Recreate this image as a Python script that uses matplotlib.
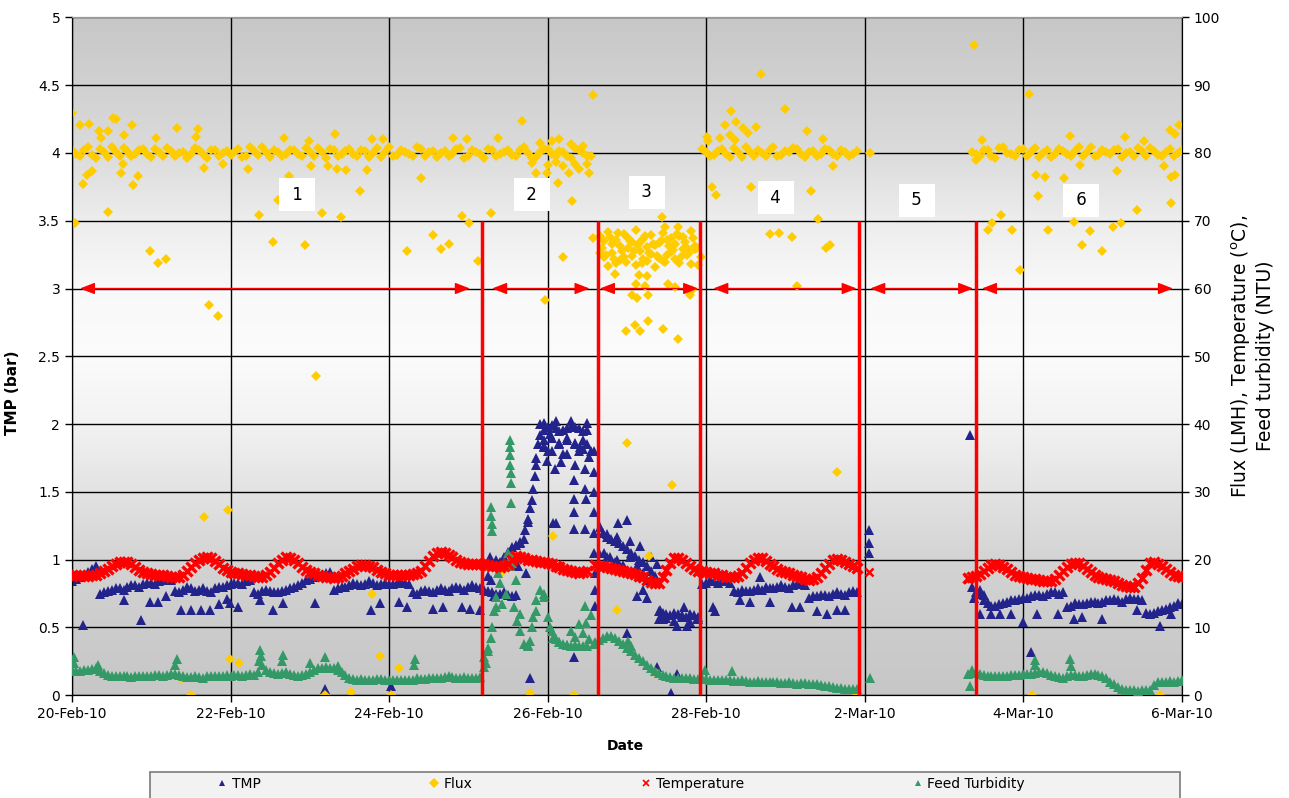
import numpy as np
import matplotlib.pyplot as plt
from matplotlib.lines import Line2D
from matplotlib.patches import Rectangle
from matplotlib.ticker import FormatStrFormatter

plt.rcParams['font.family'] = ['DejaVu Sans', 'Liberation Sans']

# ---------------- data (x = days since 20-Feb-10) ----------------
# dense runs are read every 0.1 day, plus a second reading between them
STEP = 0.1
date_labels = ['20-Feb-10', '22-Feb-10', '24-Feb-10', '26-Feb-10',
               '28-Feb-10', '2-Mar-10', '4-Mar-10', '6-Mar-10']
date_ticks = [0, 2, 4, 6, 8, 10, 12, 14]

# TMP (bar)
tmp_a_start = 0.0
tmp_a = [0.84, 0.87, 0.91, 0.95, 0.76, 0.78, 0.79, 0.80, 0.81, 0.82,
         0.83, 0.84, 0.86, 0.77, 0.78, 0.79, 0.78, 0.77, 0.79, 0.80,
         0.82, 0.83, 0.84, 0.76, 0.77, 0.77, 0.76, 0.78, 0.80, 0.83,
         0.86, 0.88, 0.90, 0.78, 0.80, 0.81, 0.82, 0.82, 0.83, 0.82,
         0.82, 0.83, 0.83, 0.76, 0.77, 0.77, 0.78, 0.78, 0.79, 0.79,
         0.80, 0.80, 0.78, 0.76, 0.75, 0.74, 0.74, 1.15, 1.44, 1.92,
         1.98, 1.97, 1.96, 1.98, 1.97, 1.96]
tmp_a_mid_start = 0.05
tmp_a_mid = [0.86, 0.89, 0.93, 0.75, 0.77, 0.79, 0.78, 0.81, 0.80, 0.83,
             0.82, 0.85, 0.85, 0.76, 0.80, 0.77, 0.79, 0.76, 0.80, 0.81,
             0.83, 0.82, 0.85, 0.75, 0.78, 0.76, 0.77, 0.79, 0.81, 0.85,
             0.87, 0.89, 0.91, 0.79, 0.80, 0.83, 0.81, 0.84, 0.81, 0.83,
             0.82, 0.84, 0.82, 0.75, 0.78, 0.76, 0.79, 0.77, 0.80, 0.78,
             0.81, 0.79, 0.77, 0.75, 0.76, 0.73, 1.12, 1.28, 1.70, 1.96,
             1.99, 1.95, 1.97, 1.98, 1.95]
tmp_b_start = 6.7
tmp_b = [1.20, 1.15, 1.12, 1.08, 1.03, 0.98, 0.92, 0.62, 0.60, 0.61,
         0.59, 0.60, 0.58, 0.83, 0.84, 0.84, 0.83, 0.76, 0.77, 0.78,
         0.78, 0.79, 0.80, 0.80, 0.81, 0.82, 0.72, 0.73, 0.74, 0.75,
         0.75, 0.76, 0.76]
tmp_b_mid_start = 6.75
tmp_b_mid = [1.17, 1.14, 1.10, 1.05, 1.00, 0.95, 0.88, 0.61, 0.59, 0.60,
             0.58, 0.59, 0.82, 0.85, 0.83, 0.85, 0.77, 0.78, 0.77, 0.79,
             0.80, 0.79, 0.81, 0.79, 0.82, 0.81, 0.73, 0.74, 0.73, 0.76,
             0.74, 0.77]
tmp_c_start = 11.4
tmp_c = [0.76, 0.74, 0.66, 0.67, 0.69, 0.70, 0.72, 0.73, 0.74, 0.75,
         0.76, 0.76, 0.66, 0.67, 0.68, 0.69, 0.69, 0.70, 0.70, 0.71,
         0.71, 0.70, 0.60, 0.62, 0.64, 0.66, 0.67]
tmp_c_mid_start = 11.45
tmp_c_mid = [0.75, 0.68, 0.66, 0.68, 0.70, 0.71, 0.72, 0.74, 0.73, 0.76,
             0.75, 0.65, 0.68, 0.67, 0.69, 0.68, 0.70, 0.71, 0.69, 0.72,
             0.71, 0.61, 0.61, 0.63, 0.65, 0.68]
# lower edge of the thick parts of the TMP band
tmp_plateau_start = 5.95
tmp_plateau_lo = [1.84, 1.80, 1.86, 1.78, 1.85, 1.82, 1.80]
tmp_b_lo_start = 6.65
tmp_b_lo = [1.05, 1.02, 0.98, 0.96, 0.92, 0.88, 0.85]
tmp_low_start = 7.4
tmp_low_lo = [0.56, 0.57, 0.55, 0.58, 0.54, 0.56]
tmp_scatter = [
    (0.135, 0.52), (0.66, 0.70), (0.87, 0.555), (0.98, 0.69), (1.08, 0.69),
    (1.18, 0.73), (1.38, 0.63), (1.50, 0.63), (1.63, 0.63), (1.74, 0.63),
    (1.85, 0.67), (1.95, 0.71), (1.99, 0.68), (2.10, 0.65), (2.37, 0.70),
    (2.53, 0.63), (2.66, 0.68), (3.07, 0.68), (3.19, 0.05), (3.77, 0.63),
    (3.88, 0.68), (4.02, 0.07), (4.13, 0.69), (4.23, 0.65), (4.56, 0.64),
    (4.68, 0.65), (4.92, 0.65), (5.02, 0.64), (5.15, 0.63),
    (5.25, 0.88), (5.30, 0.95), (5.35, 1.00), (5.40, 0.98), (5.45, 1.02),
    (5.50, 1.06), (5.55, 1.09), (5.60, 1.11), (5.65, 1.13), (5.72, 1.22),
    (5.75, 1.30), (5.78, 1.38), (5.82, 1.52), (5.84, 1.62), (5.86, 1.75),
    (5.88, 1.85), (5.90, 2.00), (5.27, 1.02), (5.29, 0.85), (5.32, 0.73),
    (5.40, 0.95), (5.59, 0.98), (5.63, 0.95), (5.73, 0.90), (5.78, 0.13),
    (5.95, 1.88), (6.05, 1.90), (6.15, 1.85), (6.25, 1.90), (6.35, 1.86),
    (6.45, 1.88), (6.00, 1.80), (6.20, 1.78), (6.40, 1.80), (6.50, 1.85),
    (5.95, 2.01), (6.10, 2.02), (6.30, 2.02), (6.50, 2.01), (5.95, 1.83),
    (5.99, 1.73), (6.03, 1.93), (6.09, 1.67), (6.10, 1.27), (6.17, 1.72),
    (6.24, 1.88), (6.33, 0.28), (6.35, 1.70), (6.33, 1.59), (6.33, 1.45),
    (6.33, 1.35), (6.33, 1.23), (6.41, 1.83), (6.47, 1.67), (6.47, 1.52),
    (6.49, 1.45), (6.47, 1.23), (6.52, 1.76), (6.07, 1.27),
    (6.58, 1.80), (6.58, 1.65), (6.58, 1.50), (6.59, 1.35), (6.59, 1.20),
    (6.59, 1.05), (6.60, 0.90), (6.60, 0.78), (6.60, 0.66),
    (6.66, 1.24), (6.89, 1.27), (7.00, 1.29), (6.71, 1.05), (6.79, 1.02),
    (6.87, 1.00), (7.04, 1.02), (7.13, 0.95), (7.21, 0.90), (7.13, 0.73),
    (7.21, 0.78), (7.25, 0.72), (6.75, 1.19), (6.87, 1.17), (7.04, 1.14),
    (7.17, 1.10), (7.30, 1.02), (7.38, 0.97), (7.00, 0.46), (7.38, 0.21),
    (7.56, 0.02), (7.63, 0.16), (7.46, 0.56), (7.63, 0.51), (7.76, 0.51),
    (7.89, 0.56), (7.42, 0.63), (7.72, 0.65),
    (8.09, 0.65), (8.11, 0.62), (8.43, 0.70), (8.55, 0.69), (8.81, 0.69),
    (9.08, 0.65), (9.19, 0.65), (9.40, 0.62), (9.52, 0.60), (9.65, 0.63),
    (9.75, 0.63), (8.68, 0.87),
    (10.05, 1.22), (10.05, 1.12), (10.06, 1.05),
    (11.33, 1.92), (11.35, 0.80), (11.38, 0.72), (11.45, 0.78), (11.50, 0.70),
    (11.46, 0.60), (11.60, 0.60), (11.71, 0.60), (11.85, 0.60), (12.00, 0.54),
    (12.18, 0.60), (12.44, 0.60), (12.64, 0.56), (12.74, 0.58), (13.00, 0.56),
    (13.43, 0.63), (13.72, 0.51), (13.87, 0.60), (12.10, 0.32)]

# Flux (LMH)
flux_a_start = 0.0
flux_a = [80.4, 79.6, 80.8, 79.3, 80.2, 80.9, 79.5, 80.3, 79.8, 80.6,
          79.4, 80.1, 80.7, 79.6, 80.2, 79.9, 80.5, 79.3, 80.4, 80.0,
          79.7, 80.6, 79.5, 80.3, 80.8, 79.4, 80.1, 79.8, 80.5, 79.6,
          80.2, 80.7, 79.3, 80.4, 79.9, 80.6, 79.5, 80.3, 80.0, 79.4,
          80.8, 79.7, 80.2, 79.5, 80.6, 80.1, 79.4, 80.3, 79.8, 80.7,
          79.6, 80.2, 79.3, 80.5, 79.9, 80.4, 79.6, 80.8, 79.3, 80.2,
          80.6, 79.5, 80.1, 79.2, 80.4, 79.6]
flux_a_mid_start = 0.05
flux_a_mid = [79.9, 80.5, 79.7, 80.6, 79.4, 80.2, 80.7, 79.6, 80.4, 79.8,
              80.6, 79.5, 80.3, 80.0, 79.3, 80.7, 79.8, 80.5, 79.6, 80.3,
              80.1, 79.4, 80.8, 79.7, 80.2, 80.5, 79.6, 80.4, 79.9, 80.7,
              79.5, 80.1, 80.6, 79.6, 80.3, 79.8, 80.5, 79.4, 80.7, 80.2,
              79.6, 80.4, 79.8, 80.8, 79.5, 80.3, 80.0, 79.6, 80.6, 79.3,
              80.4, 79.8, 80.6, 79.5, 80.2, 79.7, 80.5, 80.0, 79.4, 80.6,
              79.8, 80.3, 79.5, 80.7, 80.0]
flux_s3_start = 6.66   # run 3, read every 0.05 day
flux_s3_hi = [67.8, 64.6, 68.4, 65.3, 67.1, 64.2, 68.0, 66.0, 64.8, 68.6,
              65.6, 67.3, 64.1, 67.9, 66.4, 64.5, 68.2, 65.0, 67.5, 64.3,
              67.7, 65.8, 64.9, 68.5, 66.2]
flux_s3_lo = [65.2, 67.0, 63.3, 66.6, 63.8, 66.3, 64.7, 67.4, 66.8, 63.5,
              66.9, 64.4, 66.1, 65.1, 63.2, 66.7, 64.0, 67.2, 65.4, 66.5,
              63.7, 67.6, 66.0, 63.6, 65.9]
flux_s3_mid_start = 6.685
flux_s3_mid = [66.0, 65.0, 67.6, 64.4, 68.2, 65.5, 63.9, 67.0, 65.6, 66.4,
               63.7, 67.8, 65.2, 66.6, 64.8, 67.0, 63.9, 66.2, 65.7, 68.0,
               64.6, 66.9, 65.3, 67.4]
flux_b_start = 7.95
flux_b = [80.6, 79.5, 80.3, 79.8, 80.7, 79.4, 80.2, 80.5, 79.6, 80.9,
          79.7, 80.1, 80.6, 79.4, 80.3, 79.8, 80.5, 79.5, 80.2, 79.9]
flux_b_mid_start = 8.0
flux_b_mid = [80.1, 79.7, 80.6, 79.4, 80.2, 80.8, 79.6, 80.0, 80.4, 79.5,
              80.3, 80.7, 79.8, 80.2, 79.5, 80.6, 79.9, 80.4, 79.6, 80.3]
flux_c_start = 11.35
flux_c = [80.2, 79.6, 80.5, 79.3, 80.8, 79.9, 80.4, 79.5, 80.7, 80.0,
          79.4, 80.6, 79.8, 80.3, 79.5, 80.9, 79.7, 80.2, 80.5, 79.4,
          80.1, 80.7, 79.6, 80.3, 79.5, 80.6, 80.0]
flux_c_mid_start = 11.4
flux_c_mid = [79.8, 80.4, 79.6, 80.7, 80.0, 79.5, 80.6, 80.2, 79.4, 80.5,
              79.9, 80.3, 79.6, 80.8, 80.1, 79.5, 80.4, 79.8, 80.6, 80.0,
              79.5, 80.3, 80.7, 79.7, 80.2, 79.6, 80.5]
flux_scatter = [
    (0.00, 85.9), (0.04, 69.7), (0.10, 84.1), (0.21, 84.2), (0.14, 75.4),
    (0.19, 76.8), (0.25, 77.3), (0.34, 83.3), (0.37, 82.2), (0.45, 83.3),
    (0.52, 85.2), (0.56, 85.0), (0.45, 71.3), (0.66, 82.6), (0.64, 78.3),
    (0.62, 77.1), (0.76, 84.1), (0.77, 75.2), (0.83, 76.6), (0.98, 65.6),
    (1.08, 63.7), (1.19, 64.3), (1.06, 82.2), (1.32, 83.7), (1.59, 83.6),
    (1.56, 82.3), (1.67, 77.8), (1.90, 78.4), (1.73, 57.6), (1.84, 56.0),
    (2.22, 77.6), (2.36, 70.9), (2.53, 66.9), (2.60, 73.1), (2.67, 82.2),
    (2.74, 76.6), (2.94, 66.4), (2.99, 81.7), (3.02, 78.0), (3.08, 47.1),
    (3.16, 71.1), (3.23, 78.0), (3.34, 77.7), (3.46, 77.5), (3.32, 82.8),
    (3.39, 70.6), (3.63, 74.4), (3.72, 77.5), (3.78, 82.0), (3.92, 82.0),
    (4.23, 65.6), (4.40, 76.3), (4.55, 67.9), (4.65, 65.8), (4.76, 66.6),
    (4.92, 70.7), (5.01, 69.7), (5.12, 64.0), (5.28, 71.2), (5.68, 84.7),
    (5.85, 77.1), (5.99, 77.0), (6.13, 75.5), (6.27, 77.0), (6.31, 72.9),
    (6.19, 64.6), (6.57, 88.5), (6.52, 77.1), (5.97, 58.3), (5.38, 82.2),
    (4.81, 82.2), (4.98, 82.0), (5.80, 78.5), (5.90, 81.5), (6.00, 78.2),
    (6.05, 81.8), (6.10, 78.6), (6.15, 82.0), (6.20, 78.0), (6.30, 81.3),
    (6.35, 78.4), (6.40, 77.6), (6.45, 81.0), (6.50, 78.3), (6.55, 79.5),
    (1.67, 26.3), (1.97, 27.3), (1.99, 5.3), (2.11, 4.8), (1.50, 0.0),
    (1.38, 2.4), (3.19, 0.0), (3.52, 0.5), (3.78, 15.0), (3.89, 5.8),
    (4.13, 4.1), (4.02, 0.0), (5.78, 0.3), (6.33, 0.0), (6.07, 23.5),
    (6.57, 67.4), (5.42, 18.2),
    (7.44, 70.5), (7.65, 69.1), (7.48, 69.1), (7.93, 64.7), (6.85, 62.2),
    (7.15, 62.0), (7.25, 61.8), (7.12, 60.6), (7.23, 60.3), (7.52, 60.6),
    (7.61, 60.2), (7.80, 59.1), (7.82, 59.8), (7.07, 59.0), (7.13, 58.6),
    (7.27, 59.0), (6.99, 53.8), (7.10, 54.6), (7.16, 53.8), (7.27, 55.2),
    (7.46, 54.0), (7.65, 52.5), (7.88, 66.0), (7.90, 63.5), (7.00, 37.2),
    (7.57, 31.0), (7.28, 20.6), (6.88, 12.6), (7.37, 3.3),
    (8.69, 91.6), (8.31, 86.2), (8.99, 86.5), (8.24, 84.1), (8.38, 84.5),
    (8.46, 83.7), (8.53, 82.9), (8.63, 83.8), (8.18, 82.2), (8.30, 82.6),
    (8.37, 81.9), (8.01, 82.3), (8.03, 81.8), (9.27, 83.3), (9.48, 82.0),
    (9.60, 78.0), (8.08, 75.0), (8.12, 73.8), (8.57, 74.9), (9.32, 74.4),
    (9.41, 70.3), (8.81, 68.1), (8.92, 68.2), (9.08, 67.6), (9.51, 66.0),
    (9.56, 66.4), (9.15, 60.3), (9.65, 32.9), (9.90, 0.0),
    (10.07, 80.0), (11.38, 95.9),
    (11.48, 81.9), (11.41, 78.9), (11.55, 68.7), (11.61, 69.7), (11.72, 70.8),
    (11.86, 68.6), (11.96, 62.8), (12.07, 88.7), (12.16, 76.7), (12.27, 76.4),
    (12.19, 73.6), (12.31, 68.6), (12.52, 76.3), (12.59, 82.5), (12.64, 69.8),
    (12.72, 78.2), (12.74, 66.4), (12.84, 68.5), (13.00, 65.6), (13.13, 69.1),
    (13.23, 69.6), (13.19, 77.4), (13.28, 82.4), (13.43, 71.6), (13.52, 81.8),
    (13.78, 78.0), (13.85, 83.4), (13.92, 82.8), (13.96, 84.1), (13.87, 76.5),
    (13.92, 76.8), (13.86, 72.6), (14.00, 80.3), (12.11, 0.0), (13.72, 0.0)]

# Temperature (deg C)
temp_a_start = 0.0
temp_a = [17.6, 17.7, 17.6, 17.8, 18.3, 19.0, 19.6, 19.6, 18.9, 18.2,
          17.9, 17.8, 17.6, 17.4, 17.8, 18.9, 20.0, 20.4, 19.8, 18.8,
          18.2, 18.0, 17.8, 17.6, 17.4, 18.2, 19.5, 20.4, 20.0, 18.9,
          18.2, 17.8, 17.5, 17.3, 17.6, 18.4, 19.0, 19.2, 18.9, 18.2,
          17.8, 17.8, 17.8, 17.9, 18.4, 19.8, 21.0, 21.0, 20.4, 19.6,
          19.4, 19.3, 19.3, 19.1, 18.9, 19.4, 20.6, 20.2, 19.9, 19.7,
          19.5, 19.1, 18.7, 18.3, 18.1, 18.4]
temp_a_mid_start = 0.05
temp_a_mid = [17.7, 17.6, 17.7, 18.0, 18.6, 19.3, 19.7, 19.3, 18.5, 18.0,
              17.8, 17.7, 17.5, 17.5, 18.3, 19.5, 20.3, 20.2, 19.3, 18.5,
              18.1, 17.9, 17.7, 17.5, 17.7, 18.8, 20.0, 20.3, 19.5, 18.5,
              18.0, 17.6, 17.4, 17.4, 18.0, 18.7, 19.2, 19.1, 18.5, 18.0,
              17.8, 17.8, 17.8, 18.1, 19.0, 20.5, 21.1, 20.7, 20.0, 19.5,
              19.3, 19.3, 19.2, 19.0, 19.0, 20.0, 20.4, 20.0, 19.8, 19.6,
              19.3, 18.9, 18.5, 18.2, 18.2]
temp_b_start = 6.6
temp_b = [19.2, 19.0, 18.8, 18.5, 18.2, 17.9, 17.4, 16.7, 16.6, 18.5,
          20.2, 20.0, 19.0, 18.4, 18.2, 18.0, 17.7, 17.4, 17.6, 18.8,
          20.0, 20.2, 19.4, 18.6, 18.2, 17.8, 17.4, 17.0, 17.4, 18.8,
          19.9, 20.0, 19.3, 18.8]
temp_b_mid_start = 6.65
temp_b_mid = [19.1, 18.9, 18.6, 18.3, 18.0, 17.6, 17.0, 16.5, 17.4, 19.5,
              20.3, 19.5, 18.7, 18.3, 18.1, 17.8, 17.5, 17.4, 18.1, 19.5,
              20.2, 19.8, 19.0, 18.4, 18.0, 17.6, 17.2, 17.1, 18.0, 19.4,
              20.1, 19.7, 19.0]
temp_c_start = 11.3
temp_c = [17.3, 17.6, 18.4, 19.2, 19.2, 18.6, 17.8, 17.4, 17.2, 17.0,
          16.8, 17.2, 18.4, 19.3, 19.5, 18.7, 17.8, 17.3, 17.0, 16.6,
          16.1, 15.9, 17.3, 19.5, 19.4, 18.6, 17.8, 17.5]
temp_c_mid_start = 11.35
temp_c_mid = [17.4, 17.9, 18.8, 19.3, 18.9, 18.2, 17.6, 17.3, 17.1, 16.9,
              16.9, 17.7, 18.9, 19.5, 19.1, 18.2, 17.5, 17.1, 16.8, 16.3,
              16.0, 16.5, 18.5, 19.6, 19.0, 18.2, 17.6]
temp_scatter = [(10.06, 18.2), (11.31, 17.2)]

# Feed turbidity (NTU)
turb_a_start = 0.0
turb_a = [3.7, 3.6, 3.7, 4.0, 3.3, 2.8, 2.8, 2.8, 2.8, 2.9,
          2.9, 3.0, 3.0, 3.2, 2.8, 2.7, 2.7, 2.8, 2.9, 2.9,
          2.9, 3.0, 3.0, 3.0, 4.5, 3.4, 3.2, 3.5, 3.0, 3.0,
          3.4, 4.0, 4.2, 4.0, 3.5, 2.6, 2.3, 2.3, 2.3, 2.4,
          2.3, 2.2, 2.2, 2.3, 2.4, 2.5, 2.6, 2.7, 2.7, 2.6,
          2.6, 2.6, 4.2, 10.0, 16.5, 21.0, 17.0, 7.5, 10.0, 15.5,
          11.5, 8.3, 7.6, 7.3, 7.2, 7.3]
turb_a_mid_start = 0.05
turb_a_mid = [3.6, 3.7, 3.9, 3.6, 3.0, 2.8, 2.9, 2.7, 2.9, 2.8,
              3.0, 2.9, 3.1, 3.0, 2.7, 2.8, 2.6, 2.9, 2.8, 3.0,
              3.0, 2.9, 3.1, 3.4, 3.8, 3.3, 3.3, 3.2, 2.9, 3.2,
              3.7, 4.1, 4.1, 3.8, 3.0, 2.4, 2.4, 2.2, 2.4, 2.3,
              2.3, 2.3, 2.2, 2.5, 2.4, 2.6, 2.6, 2.8, 2.6, 2.7,
              2.5, 2.7, 7.0, 13.0, 19.0, 19.5, 12.0, 7.4, 12.5, 15.0,
              9.5, 7.9, 7.4, 7.4, 7.2]
turb_b_start = 6.6
turb_b = [7.8, 8.5, 8.7, 8.0, 7.0, 6.0, 5.0, 4.0, 3.3, 2.8,
          2.6, 2.5, 2.5, 2.4, 2.4, 2.3, 2.2, 2.2, 2.1, 2.1,
          2.0, 2.0, 2.0, 1.9, 1.8, 1.8, 1.8, 1.7, 1.6, 1.4,
          1.2, 1.1, 1.0, 0.9]
turb_b_mid_start = 6.65
turb_b_mid = [8.2, 8.8, 8.4, 7.5, 6.5, 5.5, 4.5, 3.6, 3.0, 2.7,
              2.5, 2.6, 2.4, 2.5, 2.3, 2.3, 2.2, 2.1, 2.2, 2.0,
              2.1, 1.9, 2.0, 1.8, 1.9, 1.7, 1.8, 1.6, 1.5, 1.3,
              1.1, 1.0, 1.0]
turb_c_start = 11.3
turb_c = [3.2, 3.4, 3.0, 2.9, 2.8, 2.9, 3.0, 3.1, 3.2, 3.4,
          3.3, 2.8, 2.6, 3.0, 2.9, 3.0, 3.1, 2.8, 2.0, 1.2,
          0.8, 0.8, 0.8, 0.8, 1.9, 2.0, 2.0, 2.2]
turb_c_mid_start = 11.35
turb_c_mid = [3.3, 3.1, 2.8, 2.9, 2.8, 3.0, 3.0, 3.2, 3.3, 3.5,
              3.0, 2.7, 2.8, 3.0, 2.9, 3.1, 3.0, 2.5, 1.6, 1.0,
              0.8, 0.7, 0.8, 1.5, 2.0, 2.1, 2.1]
turb_scatter = [
    (0.02, 5.7), (0.03, 4.8), (0.33, 4.4), (1.32, 5.4), (1.30, 4.5),
    (2.37, 6.7), (2.38, 5.8), (2.36, 5.0), (2.66, 5.9), (2.65, 5.0),
    (3.19, 5.7), (3.00, 4.7), (3.35, 4.3), (4.33, 5.3), (4.32, 4.4),
    (5.20, 5.6), (5.22, 4.8), (5.25, 6.5), (5.28, 8.5), (5.32, 12.5),
    (5.35, 14.5), (5.38, 18.0), (5.42, 13.5), (5.45, 19.5), (5.48, 15.0),
    (5.52, 19.0), (5.55, 20.5), (5.58, 13.0), (5.62, 11.0), (5.65, 9.5),
    (5.75, 7.2), (5.78, 8.0), (5.82, 11.5), (5.85, 14.0), (5.95, 14.5),
    (6.03, 10.0), (6.07, 8.5), (6.15, 7.8), (6.25, 7.4), (6.35, 8.6),
    (6.40, 10.5), (6.45, 9.2), (6.47, 13.1), (6.49, 10.6), (6.55, 11.8),
    (6.29, 9.5), (6.52, 8.3), (6.58, 7.6),
    (5.29, 27.8), (5.29, 26.5), (5.30, 25.2), (5.30, 24.2), (5.53, 37.7),
    (5.53, 36.6), (5.53, 35.5), (5.53, 34.0), (5.54, 32.8), (5.54, 31.3),
    (5.54, 28.3), (7.02, 8.0), (7.05, 7.2), (7.99, 3.7), (8.33, 3.6),
    (10.07, 2.5), (11.33, 1.3), (11.35, 3.8), (12.15, 5.2), (12.59, 5.4),
    (12.15, 4.5), (12.60, 4.3)]

# operating periods: divider days, arrow spans, labels
phase_bounds = [5.17, 6.63, 7.92, 9.93, 11.41]
arrow_spans = [(0.10, 5.02), (5.30, 6.53), (6.66, 7.90),
               (8.09, 9.90), (10.07, 11.37), (11.48, 13.89)]
phase_labels = ['1', '2', '3', '4', '5', '6']
phase_label_x = [2.84, 5.80, 7.25, 8.88, 10.66, 12.73]
phase_label_y = [73.8, 73.8, 74.2, 73.4, 73.0, 73.0]


def times(start, values, step=STEP):
    return start + step * np.arange(len(values))


def unzip(pairs):
    return [p[0] for p in pairs], [p[1] for p in pairs]


navy = '#23238c'
gold = '#ffcc00'
green = '#339966'

fig = plt.figure(figsize=(12.89, 7.98), dpi=100)
ax = fig.add_axes([0.05586, 0.1287, 0.8609, 0.8496])
ax2 = ax.twinx()

# grey-white-grey plot area gradient
stops = [0, 0.1, 0.2, 0.3, 0.4, 0.5, 0.6, 0.7, 0.8, 0.9, 1.0]
greys = [0.78, 0.80, 0.83, 0.89, 0.95, 0.985, 0.975, 0.93, 0.86, 0.82, 0.78]
g = np.interp(np.linspace(0, 1, 256), stops, greys)
grad = np.dstack([g, g, g]).reshape(256, 1, 3)
ax.imshow(grad, extent=[0, 14, 0, 5], origin='lower', aspect='auto', zorder=0)

tri_band = dict(linestyle='none', marker='^', ms=7.5, mew=0)
tri = dict(linestyle='none', marker='^', ms=6.5, mew=0)
dia_band = dict(linestyle='none', marker='D', ms=5.6, mew=0, color=gold)
dia = dict(linestyle='none', marker='D', ms=5, mew=0, color=gold)
crs_band = dict(linestyle='none', marker='x', ms=7, mew=2.4, color='red')
crs = dict(linestyle='none', marker='x', ms=6, mew=1.8, color='red')

# TMP on left axis
tmp_runs = [(tmp_a_start, tmp_a), (tmp_a_mid_start, tmp_a_mid),
            (tmp_b_start, tmp_b), (tmp_b_mid_start, tmp_b_mid),
            (tmp_c_start, tmp_c), (tmp_c_mid_start, tmp_c_mid),
            (tmp_plateau_start, tmp_plateau_lo), (tmp_b_lo_start, tmp_b_lo),
            (tmp_low_start, tmp_low_lo)]
for st, vals in tmp_runs:
    ax.plot(times(st, vals), vals, color=navy, zorder=3, **tri_band)
sx, sy = unzip(tmp_scatter)
ax.plot(sx, sy, color=navy, zorder=3, **tri)

# flux, temperature, turbidity on right axis
flux_runs = [(flux_a_start, flux_a), (flux_a_mid_start, flux_a_mid),
             (flux_b_start, flux_b), (flux_b_mid_start, flux_b_mid),
             (flux_c_start, flux_c), (flux_c_mid_start, flux_c_mid)]
for st, vals in flux_runs:
    ax2.plot(times(st, vals), vals, zorder=2, **dia_band)
for st, vals in [(flux_s3_start, flux_s3_hi), (flux_s3_start, flux_s3_lo),
                 (flux_s3_mid_start, flux_s3_mid)]:
    ax2.plot(times(st, vals, 0.05), vals, zorder=2, **dia_band)
sx, sy = unzip(flux_scatter)
ax2.plot(sx, sy, zorder=2, **dia)

turb_runs = [(turb_a_start, turb_a), (turb_a_mid_start, turb_a_mid),
             (turb_b_start, turb_b), (turb_b_mid_start, turb_b_mid),
             (turb_c_start, turb_c), (turb_c_mid_start, turb_c_mid)]
for st, vals in turb_runs:
    ax2.plot(times(st, vals), vals, color=green, zorder=3, **tri_band)
sx, sy = unzip(turb_scatter)
ax2.plot(sx, sy, color=green, zorder=3, **tri_band)

temp_runs = [(temp_a_start, temp_a), (temp_a_mid_start, temp_a_mid),
             (temp_b_start, temp_b), (temp_b_mid_start, temp_b_mid),
             (temp_c_start, temp_c), (temp_c_mid_start, temp_c_mid)]
for st, vals in temp_runs:
    ax2.plot(times(st, vals), vals, zorder=4, **crs_band)
sx, sy = unzip(temp_scatter)
ax2.plot(sx, sy, zorder=4, **crs)

# period markers
ax2.vlines(phase_bounds, 0, 70, color='red', lw=2.5, zorder=6)
for x1, x2 in arrow_spans:
    ax2.annotate('', xy=(x2, 60), xytext=(x1, 60), zorder=6,
                 arrowprops=dict(arrowstyle='<|-|>,head_length=0.9,head_width=0.35',
                                 color='red', lw=1, shrinkA=0, shrinkB=0))
for s, x, y in zip(phase_labels, phase_label_x, phase_label_y):
    ax2.text(x, y, ' ' + s + ' ', ha='center', va='center', fontsize=12, zorder=7,
             bbox=dict(boxstyle='square,pad=0.45', fc='white', ec='none'))

# axes formatting
ax.set_xlim(0, 14)
ax.set_ylim(0, 5)
ax2.set_ylim(0, 100)
ax.set_xticks(date_ticks)
ax.set_xticklabels(date_labels)
ax.set_yticks(np.arange(0, 5.01, 0.5))
ax.yaxis.set_major_formatter(FormatStrFormatter('%g'))
ax2.set_yticks(np.arange(0, 101, 10))
ax.grid(True, color='black', lw=1)
for a in (ax, ax2):
    a.tick_params(direction='out', length=5, width=1, labelsize=10, colors='black')
    a.spines['top'].set_color('#9a9a9a')
    a.spines['left'].set_color('black')
    a.spines['right'].set_color('black')

ax.set_ylabel('TMP (bar)', fontweight='bold', fontsize=11)
ax.yaxis.set_label_coords(-0.047, 0.446)
fig.text(1252 / 1289, 1 - 356 / 798,
         'Flux (LMH), Temperature ($^{\\mathregular{o}}$C),\nFeed turbidity (NTU)',
         rotation=90, ha='center', va='center', multialignment='center', fontsize=13.5)
fig.text(625 / 1289, 1 - 746 / 798, 'Date', fontweight='bold', ha='center',
         va='center', fontsize=10)

# legend strip at the bottom
fig.patches.append(Rectangle((150 / 1289, -0.01), 1030 / 1289, 26 / 798 + 0.01,
                             transform=fig.transFigure, fc='#f2f2f2', ec='#7a7a7a',
                             lw=1.2, zorder=0))
handles = [Line2D([], [], color=navy, **tri), Line2D([], [], **dia),
           Line2D([], [], **crs), Line2D([], [], color=green, **tri)]
for h in handles:
    h.set_markersize(5)
    h.set_markeredgewidth(1.2 if h.get_marker() == 'x' else 0)
fig.legend(handles, ['TMP', 'Flux', 'Temperature', 'Feed Turbidity'],
           loc='center', bbox_to_anchor=(620 / 1289, 1 - 784 / 798), ncol=4,
           frameon=False, columnspacing=12, handletextpad=0.2, handlelength=1,
           fontsize=10)

fig.savefig('out.png', dpi=100)
